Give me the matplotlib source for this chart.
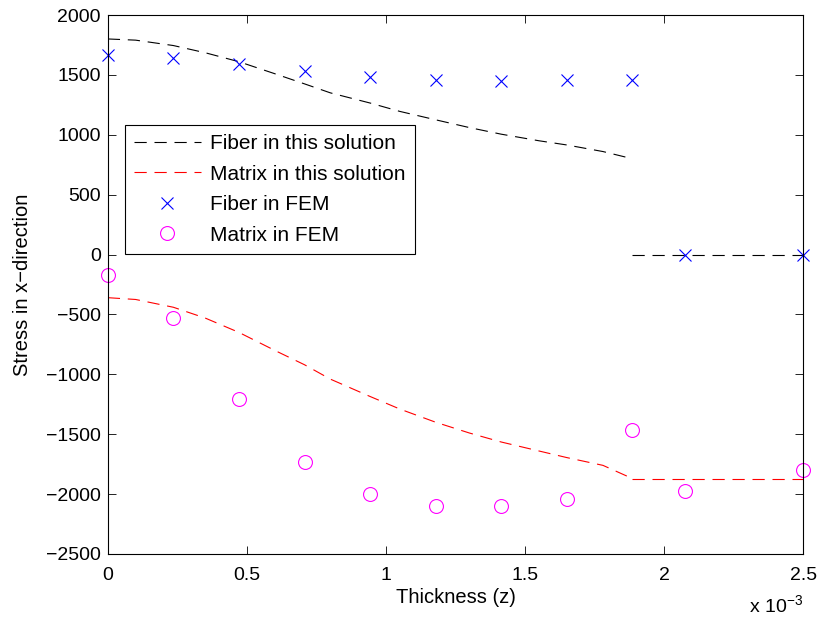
import numpy as np
import matplotlib
matplotlib.use("Agg")
import matplotlib.pyplot as plt

plt.rcParams['font.family'] = ['Liberation Sans', 'DejaVu Sans']

# FEM sample positions (x 1e-3)
fem_x = [0.0, 0.2357, 0.4714, 0.7071, 0.9429, 1.1786, 1.4143, 1.65, 1.8857, 2.075, 2.5]
fiber_fem = [1670, 1640, 1590, 1530, 1485, 1460, 1450, 1455, 1455, 0, 0]
matrix_fem = [-167, -526, -1210, -1728, -2003, -2103, -2103, -2037, -1461, -1978, -1795]

# analytic solution
sol_x = [0.0, 0.1, 0.2357, 0.35, 0.4714, 0.6, 0.7071, 0.8, 0.9429, 1.05, 1.1786, 1.3, 1.4143, 1.55, 1.65, 1.78, 1.8857]
fiber_sol = [1800, 1790, 1745, 1685, 1610, 1510, 1425, 1350, 1265, 1195, 1125, 1060, 1005, 950, 915, 860, 800]
matrix_sol = [-360, -375, -440, -530, -650, -800, -920, -1040, -1185, -1290, -1400, -1490, -1565, -1640, -1695, -1760, -1870]
fiber_sol_x2 = [1.8857, 2.5]
fiber_sol2 = [0, 0]
matrix_sol_x2 = [1.8857, 2.5]
matrix_sol2 = [-1870, -1870]

fig = plt.figure(figsize=(8.23, 6.25), dpi=100)
ax = fig.add_axes([0.131, 0.1136, 0.845, 0.8624])

dash = (0, (11, 7))
sx = np.array(sol_x) * 1e-3
l1, = ax.plot(sx, fiber_sol, color='black', ls=dash, lw=0.8, label='Fiber in this solution')
ax.plot(np.array(fiber_sol_x2) * 1e-3, fiber_sol2, color='black', ls=dash, lw=0.8)
l2, = ax.plot(sx, matrix_sol, color='red', ls=dash, lw=0.8, label='Matrix in this solution')
ax.plot(np.array(matrix_sol_x2) * 1e-3, matrix_sol2, color='red', ls=dash, lw=0.8)
fx = np.array(fem_x) * 1e-3
l3, = ax.plot(fx, fiber_fem, ls='none', marker='x', color='blue', ms=8, mew=0.8, label='Fiber in FEM', clip_on=False)
l4, = ax.plot(fx, matrix_fem, ls='none', marker='o', mfc='none', mec='magenta', ms=10, mew=0.8, label='Matrix in FEM', clip_on=False)

ax.set_xlim(0, 2.5e-3)
ax.set_ylim(-2500, 2000)
ax.set_xticks(np.array([0, 0.5, 1, 1.5, 2, 2.5]) * 1e-3)
ax.set_xticklabels(['0', '0.5', '1', '1.5', '2', '2.5'])
ax.set_yticks(np.arange(-2500, 2001, 500))
ax.set_yticklabels([str(v).replace('-', '\u2212') for v in range(-2500, 2001, 500)])
ax.tick_params(direction='in', top=True, right=True, labelsize=14, length=6, width=0.6, pad=5)
ax.tick_params(axis='x', pad=9)
for s in ax.spines.values():
    s.set_linewidth(0.8)

ax.set_xlabel('Thickness (z)', fontsize=14.5, labelpad=3)
ax.set_ylabel('Stress in x\u2212direction', fontsize=14.5, labelpad=10)
ax.text(1.0, -0.075, 'x 10$^{\\mathregular{\u22123}}$', transform=ax.transAxes, ha='right', va='top', fontsize=14)

leg = ax.legend(handles=[l1, l2, l3, l4], loc='upper left', bbox_to_anchor=(0.024, 0.796),
                fontsize=15, frameon=True, fancybox=False, edgecolor='black', framealpha=1,
                borderaxespad=0, handlelength=3.2, labelspacing=0.55, borderpad=0.45, handletextpad=0.45)
leg.get_frame().set_linewidth(0.8)

fig.savefig('out.png', dpi=100)
